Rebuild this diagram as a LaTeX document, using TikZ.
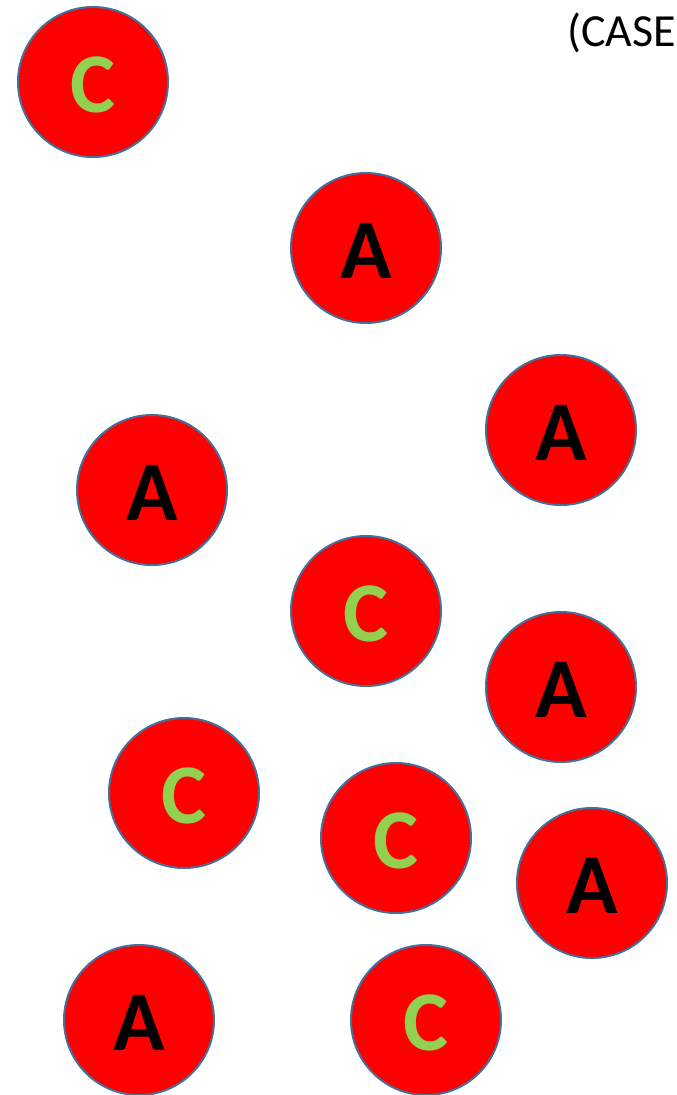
\documentclass[tikz,border=0pt]{standalone}
\usepackage{fontspec}
\setmainfont{Carlito}
\definecolor{ballline}{HTML}{41719C}
\definecolor{ballred}{HTML}{FF0000}
\definecolor{lettergreen}{HTML}{92D050}
\begin{document}
\begin{tikzpicture}[x=1pt,y=-1pt,
  ball/.style={circle, draw=ballline, fill=ballred, line width=2pt, minimum size=150pt, inner sep=0pt},
  letterbase/.style={anchor=base, inner sep=0pt, font=\fontsize{85}{85}\selectfont\bfseries},
  letA/.style={letterbase, text=black},
  letC/.style={letterbase, text=lettergreen},
  title/.style={anchor=base west, inner sep=0pt, font=\fontsize{46}{46}\selectfont}]
\useasboundingbox (0,0) rectangle (677,1095);
\clip (0,0) rectangle (677,1095);
\node[title] (case) at (567,46) {(CASE};
\node[ball] (b1) at (93,82) {};
\node[ball] (b2) at (366,248) {};
\node[ball] (b3) at (561,430) {};
\node[ball] (b4) at (152,490) {};
\node[ball] (b5) at (366,611) {};
\node[ball] (b6) at (561,687) {};
\node[ball] (b7) at (184,793) {};
\node[ball] (b8) at (396,838) {};
\node[ball] (b9) at (592,883) {};
\node[ball] (b10) at (139,1020) {};
\node[ball] (b11) at (426,1020) {};
\node[letC] (l1) at ([yshift=-30pt]b1.center) {C};
\node[letA] (l2) at ([yshift=-30pt]b2.center) {A};
\node[letA] (l3) at ([yshift=-30pt]b3.center) {A};
\node[letA] (l4) at ([yshift=-30pt]b4.center) {A};
\node[letC] (l5) at ([yshift=-30pt]b5.center) {C};
\node[letA] (l6) at ([yshift=-30pt]b6.center) {A};
\node[letC] (l7) at ([yshift=-30pt]b7.center) {C};
\node[letC] (l8) at ([yshift=-30pt]b8.center) {C};
\node[letA] (l9) at ([yshift=-30pt]b9.center) {A};
\node[letA] (l10) at ([yshift=-30pt]b10.center) {A};
\node[letC] (l11) at ([yshift=-30pt]b11.center) {C};
\end{tikzpicture}
\end{document}
